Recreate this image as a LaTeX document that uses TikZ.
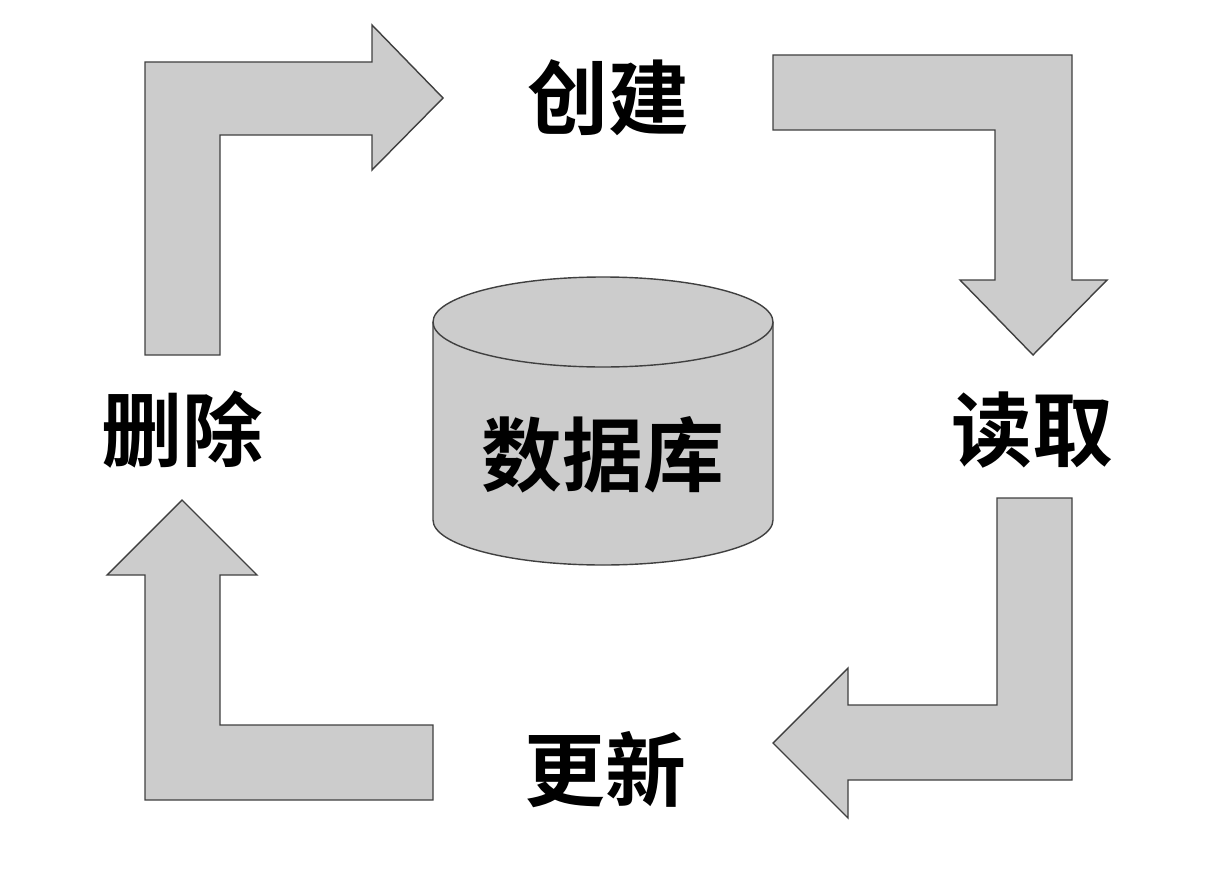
\documentclass[tikz,border=0pt]{standalone}
\usepackage{fontspec}
\setmainfont{Noto Sans CJK SC}[BoldFont={Noto Sans CJK SC Bold}]
\usetikzlibrary{shapes.geometric}
\begin{document}
\begin{tikzpicture}[x=0.02cm,y=-0.02cm,
  bigarrow/.style={draw=black!75,fill=black!20,line width=0.8pt},
  word/.style={font=\fontsize{46}{50}\selectfont\bfseries}]
\useasboundingbox (0,0) rectangle (1216,875);

% arrows
\draw[bigarrow] (145,355) -- (145,62) -- (372,62) -- (372,25) -- (443,98) -- (372,170) -- (372,135) -- (220,135) -- (220,355) -- cycle;
\draw[bigarrow] (773,55) -- (1072,55) -- (1072,280) -- (1107,280) -- (1033,355) -- (960,280) -- (995,280) -- (995,130) -- (773,130) -- cycle;
\draw[bigarrow] (997,498) -- (1072,498) -- (1072,780) -- (848,780) -- (848,818) -- (773,743) -- (848,668) -- (848,705) -- (997,705) -- cycle;
\draw[bigarrow] (433,725) -- (433,800) -- (145,800) -- (145,575) -- (107,575) -- (182,500) -- (257,575) -- (220,575) -- (220,725) -- cycle;

% database
\draw[bigarrow] (433,322) -- (433,520) arc[start angle=180,end angle=360,x radius=170,y radius=-45] -- (773,322);
\draw[bigarrow] (603,322) ellipse[x radius=170,y radius=45];

% labels
\node[word] (create) at (608,98) {创建};
\node[word] (read) at (1032,430) {读取};
\node[word] (update) at (605,770) {更新};
\node[word] (delete) at (182,430) {删除};
\node[word] (db) at (603,455) {数据库};
\end{tikzpicture}
\end{document}
